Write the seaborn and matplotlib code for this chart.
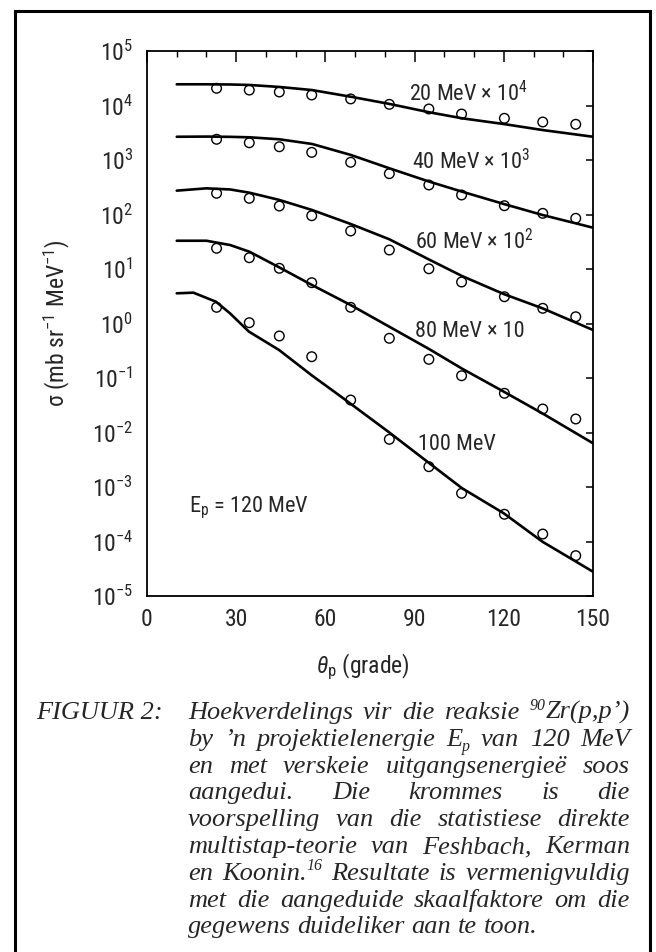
import re
import numpy as np
import pandas as pd
import matplotlib
matplotlib.use("Agg")
import matplotlib.pyplot as plt
import seaborn as sns
from matplotlib import font_manager as fm
from matplotlib.lines import Line2D
from matplotlib.ticker import FixedLocator, NullLocator, MultipleLocator

# ---------------- data ----------------
theta_points = [23.4, 34.4, 44.5, 55.4, 68.5, 81.5, 94.8, 105.8, 120.2, 133.1, 144.2]
points_20 = [20700, 19200, 17700, 15600, 13200, 10500, 8630, 6980, 5820, 4980, 4520]
points_40 = [2400, 2070, 1750, 1380, 908, 561, 348, 228, 145, 105, 85.1]
points_60 = [245, 198, 143, 95, 49.8, 22.3, 10.1, 5.77, 3.10, 1.90, 1.33]
points_80 = [24.0, 16.1, 10.3, 5.61, 1.98, 0.535, 0.220, 0.110, 0.0524, 0.0270, 0.0177]
points_100 = [1.98, 1.035, 0.590, 0.246, 0.0394, 0.0075, 0.00236, 0.000766,
              0.000316, 0.000137, 0.000055]

theta_curve = [10, 20, 28, 34.5, 44.5, 55.5, 68.5, 81.5, 95, 106, 120, 133, 150]
curve_20 = [24500, 24500, 24300, 23800, 21900, 19200, 14500, 10700, 7500, 5820, 4570, 3550, 2670]
curve_40 = [2670, 2690, 2660, 2610, 2400, 1970, 1240, 705, 400, 262, 156, 98, 57.3]
curve_60 = [274, 302, 288, 251, 185, 121, 67, 35.1, 14.8, 7.41, 3.47, 1.90, 0.76]
curve_80 = [33.0, 33.0, 27.5, 20.7, 10.7, 5.08, 2.18, 0.873, 0.337, 0.148, 0.0561, 0.0224, 0.00634]
theta_curve_100 = [10, 15.6, 23.2, 27.9, 34.3, 44.4, 55.4, 66, 81.5, 95, 106, 120, 133, 150]
curve_100 = [3.58, 3.68, 2.51, 1.54, 0.708, 0.327, 0.112, 0.0425, 0.0100, 0.00272,
             0.000946, 0.000329, 0.0000991, 0.0000279]

series_labels = ["20 MeV × 10$^4$", "40 MeV × 10$^3$", "60 MeV × 10$^2$",
                 "80 MeV × 10", "100 MeV"]
x_ticks = [0, 30, 60, 90, 120, 150]
x_tick_labels = ["0", "30", "60", "90", "120", "150"]
y_ticks = [1e-5, 1e-4, 1e-3, 1e-2, 1e-1, 1e0, 1e1, 1e2, 1e3, 1e4, 1e5]
y_tick_labels = ["10$^{-5}$", "10$^{-4}$", "10$^{-3}$", "10$^{-2}$", "10$^{-1}$",
                 "10$^{0}$", "10$^{1}$", "10$^{2}$", "10$^{3}$", "10$^{4}$", "10$^{5}$"]
y_label = "σ (mb sr$^{-1}$ MeV$^{-1}$)"
x_label = r"$\theta_{\rm p}$ (grade)"
beam_label = "E$_{\\rm p}$ = 120 MeV"

caption_head = "FIGUUR 2:"
caption_lines = [
    "Hoekverdelings vir die reaksie ^{90}Zr(p,p’)",
    "by ’n projektielenergie E_{p} van 120 MeV",
    "en met verskeie uitgangsenergieë soos",
    "aangedui.  Die krommes is die",
    "voorspelling van die statistiese direkte",
    "multistap-teorie van Feshbach, Kerman",
    "en Koonin.^{16} Resultate is vermenigvuldig",
    "met die aangeduide skaalfaktore om die",
    "gegewens duideliker aan te toon.",
]

# ---------------- fonts ----------------
sns.set_style("white")
names = {f.name for f in fm.fontManager.ttflist}
sans = "DejaVu Sans"
for cand in ["Liberation Sans Narrow", "Roboto Condensed", "Open Sans Condensed",
             "DejaVu Sans Condensed", "Roboto"]:
    if cand in names:
        sans = cand
        break
serif = "Liberation Serif" if "Liberation Serif" in names else "DejaVu Serif"
plt.rcParams["font.family"] = [sans, "DejaVu Sans"]
plt.rcParams["mathtext.fontset"] = "custom"
plt.rcParams["mathtext.rm"] = sans
plt.rcParams["mathtext.it"] = sans + ":italic"
plt.rcParams["mathtext.bf"] = sans + ":bold"
plt.rcParams["axes.unicode_minus"] = True

# ---------------- figure ----------------
W, H = 656, 952
fig = plt.figure(figsize=(W / 100, H / 100), dpi=100)
fig.patch.set_facecolor("white")

def fpos(x, y):
    return x / W, 1 - y / H

ax = fig.add_axes([147 / W, 1 - 596 / H, 446 / W, 545 / H])

curve_sets = [(theta_curve, curve_20), (theta_curve, curve_40), (theta_curve, curve_60),
              (theta_curve, curve_80), (theta_curve_100, curve_100)]
point_sets = [points_20, points_40, points_60, points_80, points_100]

df_curves = pd.concat([pd.DataFrame({"theta": tx, "sigma": sy, "series": lab})
                       for (tx, sy), lab in zip(curve_sets, series_labels)], ignore_index=True)
df_points = pd.concat([pd.DataFrame({"theta": theta_points, "sigma": py, "series": lab})
                       for py, lab in zip(point_sets, series_labels)], ignore_index=True)

sns.lineplot(data=df_curves, x="theta", y="sigma", units="series", estimator=None,
             sort=False, color="black", linewidth=1.9, ax=ax, legend=False)
sns.scatterplot(data=df_points, x="theta", y="sigma", marker="o", s=48,
                facecolors="none", edgecolor="black", linewidth=1.0, ax=ax,
                legend=False, zorder=3)

ax.set_yscale("log")
ax.set_xlim(0, 150)
ax.set_ylim(1e-5, 1e5)
ax.xaxis.set_major_locator(FixedLocator(x_ticks))
ax.set_xticklabels(x_tick_labels)
ax.xaxis.set_minor_locator(MultipleLocator(10))
ax.yaxis.set_major_locator(FixedLocator(y_ticks))
ax.set_yticklabels(y_tick_labels)
ax.yaxis.set_minor_locator(NullLocator())
ax.tick_params(axis="both", which="both", direction="in", top=True, right=True,
               labeltop=False, labelright=False, color="black")
ax.tick_params(axis="x", which="major", length=8, width=1.1, pad=9, labelsize=17)
ax.tick_params(axis="x", which="minor", length=4.5, width=1.0)
ax.tick_params(axis="y", which="major", length=5, width=1.1, pad=10, labelsize=17)
for s in ax.spines.values():
    s.set_linewidth(1.3)
    s.set_color("black")
    s.set_visible(True)

ax.set_xlabel(x_label, fontsize=17)
ax.set_ylabel(y_label, fontsize=17)
ax.xaxis.set_label_coords(0.484, -0.13)
ax.yaxis.set_label_coords(-0.202, 0.5)
ax.xaxis.label.set_va("center")
ax.yaxis.label.set_va("center")

label_pos = [(88, 10 ** 4.224), (89, 10 ** 2.969), (90, 10 ** 1.501),
             (90, 10 ** -0.138), (91, 10 ** -2.229)]
for (lx, ly), lab in zip(label_pos, series_labels):
    ax.text(lx, ly, lab, fontsize=16, ha="left", va="center")
ax.text(14, 10 ** -3.39, beam_label, fontsize=16, ha="left", va="center")

# ---------------- frame ----------------
lw_frame = 2.2
fig.add_artist(Line2D([15 / W, 15 / W], [0, 1 - 11 / H], transform=fig.transFigure,
                      color="black", lw=lw_frame))
fig.add_artist(Line2D([650 / W, 650 / W], [0, 1 - 11 / H], transform=fig.transFigure,
                      color="black", lw=lw_frame))
fig.add_artist(Line2D([15 / W, 650 / W], [1 - 11 / H, 1 - 11 / H], transform=fig.transFigure,
                      color="black", lw=lw_frame, solid_capstyle="projecting"))

# ---------------- caption (justified) ----------------
renderer = fig.canvas.get_renderer()
cap_family = [serif]

def build_line(line, fs):
    words = []
    for w in line.split():
        parts = [p for p in re.split(r"(\^\{[^}]*\}|_\{[^}]*\})", w) if p]
        pieces = []
        for p in parts:
            if p.startswith("^{"):
                kind, txt = "sup", p[2:-1]
            elif p.startswith("_{"):
                kind, txt = "sub", p[2:-1]
            else:
                kind, txt = "n", p
            size = fs * 0.6 if kind != "n" else fs
            t = fig.text(0, 0, txt, fontsize=size, family=cap_family, style="italic",
                         va="baseline", ha="left")
            pieces.append((t, kind, t.get_window_extent(renderer).width))
        words.append(pieces)
    return words

x_left, x_right = 188, 630
fs = 19.0
base0, step = 719, 26.8
fs_px = fs * 100 / 72
head = fig.text(*fpos(36, base0), caption_head, fontsize=fs, family=cap_family,
                style="italic", va="baseline", ha="left")
for i, line in enumerate(caption_lines):
    words = build_line(line, fs)
    yb = base0 + i * step
    wsum = sum(sum(p[2] for p in w) for w in words)
    if i < len(caption_lines) - 1 and len(words) > 1:
        gap = max((x_right - x_left - wsum) / (len(words) - 1), 0.12 * fs_px)
    else:
        gap = 0.25 * fs_px
    x = x_left
    for w in words:
        for t, kind, wd in w:
            dy = 0.0
            if kind == "sup":
                dy = -0.36 * fs_px
            elif kind == "sub":
                dy = 0.18 * fs_px
            t.set_position(fpos(x, yb + dy))
            x += wd
        x += gap

fig.savefig("out.png", dpi=100, facecolor="white")
